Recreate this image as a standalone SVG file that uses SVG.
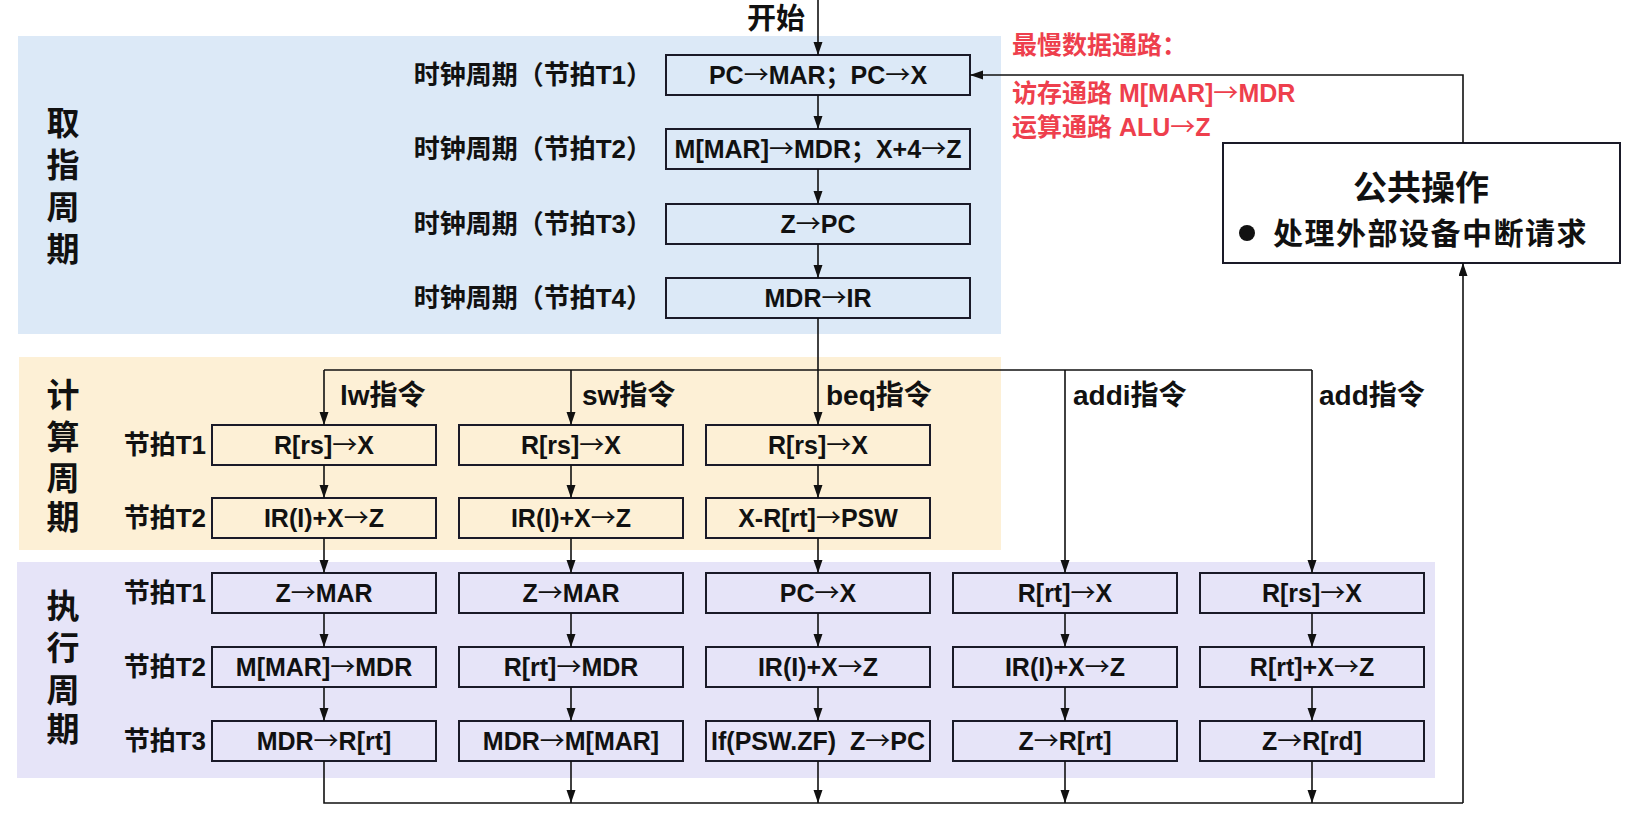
<svg xmlns="http://www.w3.org/2000/svg" width="1638" height="827" viewBox="0 0 1638 827">
<defs>
<style>
text{font-family:"Liberation Sans","Noto Sans CJK SC",sans-serif;font-weight:bold;fill:#111}
.a{font-family:"Noto Sans CJK SC",sans-serif;font-weight:normal}
.box{fill:none;stroke:#1a1a28;stroke-width:2}
.bt{font-size:25px;text-anchor:middle}
.lab{font-size:26px;text-anchor:end}
.sec{font-size:33px;text-anchor:middle}
.ins{font-size:28px}
.red{font-size:25px;fill:#ee3f4d}
.ln{fill:none;stroke:#111;stroke-width:1.6}
</style>
<marker id="ah" markerUnits="userSpaceOnUse" markerWidth="14" markerHeight="10" refX="13" refY="4.5" orient="auto">
<path d="M0,0 L13,4.5 L0,9 z" fill="#111"/>
</marker>
</defs>
<rect width="1638" height="827" fill="#fff"/>
<g id="regions">
<rect x="18" y="36" width="983" height="298" fill="#dce9f7"/>
<rect x="19" y="357" width="982" height="193" fill="#fdf0d6"/>
<rect x="17" y="562" width="1418" height="216" fill="#e6e4f8"/>
</g>
<g id="section-labels">
<text class="sec" x="63" y="135">取</text><text class="sec" x="63" y="177">指</text><text class="sec" x="63" y="219">周</text><text class="sec" x="63" y="261">期</text>
<text class="sec" x="63" y="407">计</text><text class="sec" x="63" y="449">算</text><text class="sec" x="63" y="490">周</text><text class="sec" x="63" y="529">期</text>
<text class="sec" x="63" y="618">执</text><text class="sec" x="63" y="660">行</text><text class="sec" x="63" y="702">周</text><text class="sec" x="63" y="741">期</text>
</g>
<g id="row-labels">
<text class="lab" x="652" y="84">时钟周期（节拍T1）</text>
<text class="lab" x="652" y="158">时钟周期（节拍T2）</text>
<text class="lab" x="652" y="233">时钟周期（节拍T3）</text>
<text class="lab" x="652" y="307">时钟周期（节拍T4）</text>
<text class="lab" x="206" y="454">节拍T1</text>
<text class="lab" x="206" y="527">节拍T2</text>
<text class="lab" x="206" y="602">节拍T1</text>
<text class="lab" x="206" y="676">节拍T2</text>
<text class="lab" x="206" y="750">节拍T3</text>
</g>
<g id="start"><text x="805" y="29" style="font-size:29px;text-anchor:end">开始</text></g>
<g id="f1"><rect class="box" x="666" y="55" width="304" height="40"/><text class="bt" x="818" y="84">PC<tspan class="a">→</tspan>MAR；PC<tspan class="a">→</tspan>X</text></g>
<g id="f2"><rect class="box" x="666" y="129" width="304" height="40"/><text class="bt" x="818" y="158">M[MAR]<tspan class="a">→</tspan>MDR；X+4<tspan class="a">→</tspan>Z</text></g>
<g id="f3"><rect class="box" x="666" y="204" width="304" height="40"/><text class="bt" x="818" y="233">Z<tspan class="a">→</tspan>PC</text></g>
<g id="f4"><rect class="box" x="666" y="278" width="304" height="40"/><text class="bt" x="818" y="307">MDR<tspan class="a">→</tspan>IR</text></g>
<g id="ins-labels">
<text class="ins" x="340" y="405">lw指令</text>
<text class="ins" x="582" y="405">sw指令</text>
<text class="ins" x="826" y="405">beq指令</text>
<text class="ins" x="1073" y="405">addi指令</text>
<text class="ins" x="1319" y="405">add指令</text>
</g>
<g id="lw">
<rect class="box" x="212" y="425" width="224" height="40"/><text class="bt" x="324" y="454">R[rs]<tspan class="a">→</tspan>X</text>
<rect class="box" x="212" y="498" width="224" height="40"/><text class="bt" x="324" y="527">IR(I)+X<tspan class="a">→</tspan>Z</text>
<rect class="box" x="212" y="573" width="224" height="40"/><text class="bt" x="324" y="602">Z<tspan class="a">→</tspan>MAR</text>
<rect class="box" x="212" y="647" width="224" height="40"/><text class="bt" x="324" y="676">M[MAR]<tspan class="a">→</tspan>MDR</text>
<rect class="box" x="212" y="721" width="224" height="40"/><text class="bt" x="324" y="750">MDR<tspan class="a">→</tspan>R[rt]</text>
</g>
<g id="sw">
<rect class="box" x="459" y="425" width="224" height="40"/><text class="bt" x="571" y="454">R[rs]<tspan class="a">→</tspan>X</text>
<rect class="box" x="459" y="498" width="224" height="40"/><text class="bt" x="571" y="527">IR(I)+X<tspan class="a">→</tspan>Z</text>
<rect class="box" x="459" y="573" width="224" height="40"/><text class="bt" x="571" y="602">Z<tspan class="a">→</tspan>MAR</text>
<rect class="box" x="459" y="647" width="224" height="40"/><text class="bt" x="571" y="676">R[rt]<tspan class="a">→</tspan>MDR</text>
<rect class="box" x="459" y="721" width="224" height="40"/><text class="bt" x="571" y="750">MDR<tspan class="a">→</tspan>M[MAR]</text>
</g>
<g id="beq">
<rect class="box" x="706" y="425" width="224" height="40"/><text class="bt" x="818" y="454">R[rs]<tspan class="a">→</tspan>X</text>
<rect class="box" x="706" y="498" width="224" height="40"/><text class="bt" x="818" y="527">X-R[rt]<tspan class="a">→</tspan>PSW</text>
<rect class="box" x="706" y="573" width="224" height="40"/><text class="bt" x="818" y="602">PC<tspan class="a">→</tspan>X</text>
<rect class="box" x="706" y="647" width="224" height="40"/><text class="bt" x="818" y="676">IR(I)+X<tspan class="a">→</tspan>Z</text>
<rect class="box" x="706" y="721" width="224" height="40"/><text class="bt" x="818" y="750" xml:space="preserve">If(PSW.ZF)  Z<tspan class="a">→</tspan>PC</text>
</g>
<g id="addi">
<rect class="box" x="953" y="573" width="224" height="40"/><text class="bt" x="1065" y="602">R[rt]<tspan class="a">→</tspan>X</text>
<rect class="box" x="953" y="647" width="224" height="40"/><text class="bt" x="1065" y="676">IR(I)+X<tspan class="a">→</tspan>Z</text>
<rect class="box" x="953" y="721" width="224" height="40"/><text class="bt" x="1065" y="750">Z<tspan class="a">→</tspan>R[rt]</text>
</g>
<g id="add">
<rect class="box" x="1200" y="573" width="224" height="40"/><text class="bt" x="1312" y="602">R[rs]<tspan class="a">→</tspan>X</text>
<rect class="box" x="1200" y="647" width="224" height="40"/><text class="bt" x="1312" y="676">R[rt]+X<tspan class="a">→</tspan>Z</text>
<rect class="box" x="1200" y="721" width="224" height="40"/><text class="bt" x="1312" y="750">Z<tspan class="a">→</tspan>R[rd]</text>
</g>
<g id="common">
<rect class="box" x="1223" y="143" width="397" height="120" style="fill:#fff"/>
<text x="1421" y="200" style="font-size:34px;text-anchor:middle">公共操作</text>
<circle cx="1247" cy="233" r="8" fill="#111"/>
<text x="1273" y="244" style="font-size:30px;letter-spacing:1.5px">处理外部设备中断请求</text>
</g>
<g id="note">
<text class="red" x="1012" y="54">最慢数据通路：</text>
<text class="red" x="1012" y="102">访存通路 M[MAR]<tspan class="a">→</tspan>MDR</text>
<text class="red" x="1012" y="136">运算通路 ALU<tspan class="a">→</tspan>Z</text>
</g>
<g id="connectors">
<path class="ln" d="M818,0 V55" marker-end="url(#ah)"/>
<path class="ln" d="M818,95 V129" marker-end="url(#ah)"/>
<path class="ln" d="M818,169 V204" marker-end="url(#ah)"/>
<path class="ln" d="M818,244 V278" marker-end="url(#ah)"/>
<path class="ln" d="M818,318 V425" marker-end="url(#ah)"/>
<path class="ln" d="M324,370 H1312"/>
<path class="ln" d="M324,370 V425" marker-end="url(#ah)"/>
<path class="ln" d="M571,370 V425" marker-end="url(#ah)"/>
<path class="ln" d="M1065,370 V573" marker-end="url(#ah)"/>
<path class="ln" d="M1312,370 V573" marker-end="url(#ah)"/>
<path class="ln" d="M324,465 V498" marker-end="url(#ah)"/>
<path class="ln" d="M571,465 V498" marker-end="url(#ah)"/>
<path class="ln" d="M818,465 V498" marker-end="url(#ah)"/>
<path class="ln" d="M324,538 V573" marker-end="url(#ah)"/>
<path class="ln" d="M571,538 V573" marker-end="url(#ah)"/>
<path class="ln" d="M818,538 V573" marker-end="url(#ah)"/>
<path class="ln" d="M324,613 V647" marker-end="url(#ah)"/>
<path class="ln" d="M571,613 V647" marker-end="url(#ah)"/>
<path class="ln" d="M818,613 V647" marker-end="url(#ah)"/>
<path class="ln" d="M1065,613 V647" marker-end="url(#ah)"/>
<path class="ln" d="M1312,613 V647" marker-end="url(#ah)"/>
<path class="ln" d="M324,687 V721" marker-end="url(#ah)"/>
<path class="ln" d="M571,687 V721" marker-end="url(#ah)"/>
<path class="ln" d="M818,687 V721" marker-end="url(#ah)"/>
<path class="ln" d="M1065,687 V721" marker-end="url(#ah)"/>
<path class="ln" d="M1312,687 V721" marker-end="url(#ah)"/>
<path class="ln" d="M324,761 V803 H1463"/>
<path class="ln" d="M571,761 V803" marker-end="url(#ah)"/>
<path class="ln" d="M818,761 V803" marker-end="url(#ah)"/>
<path class="ln" d="M1065,761 V803" marker-end="url(#ah)"/>
<path class="ln" d="M1312,761 V803" marker-end="url(#ah)"/>
<path class="ln" d="M1463,803 V263" marker-end="url(#ah)"/>
<path class="ln" d="M1463,143 V75 H970" marker-end="url(#ah)"/>
</g>
</svg>
